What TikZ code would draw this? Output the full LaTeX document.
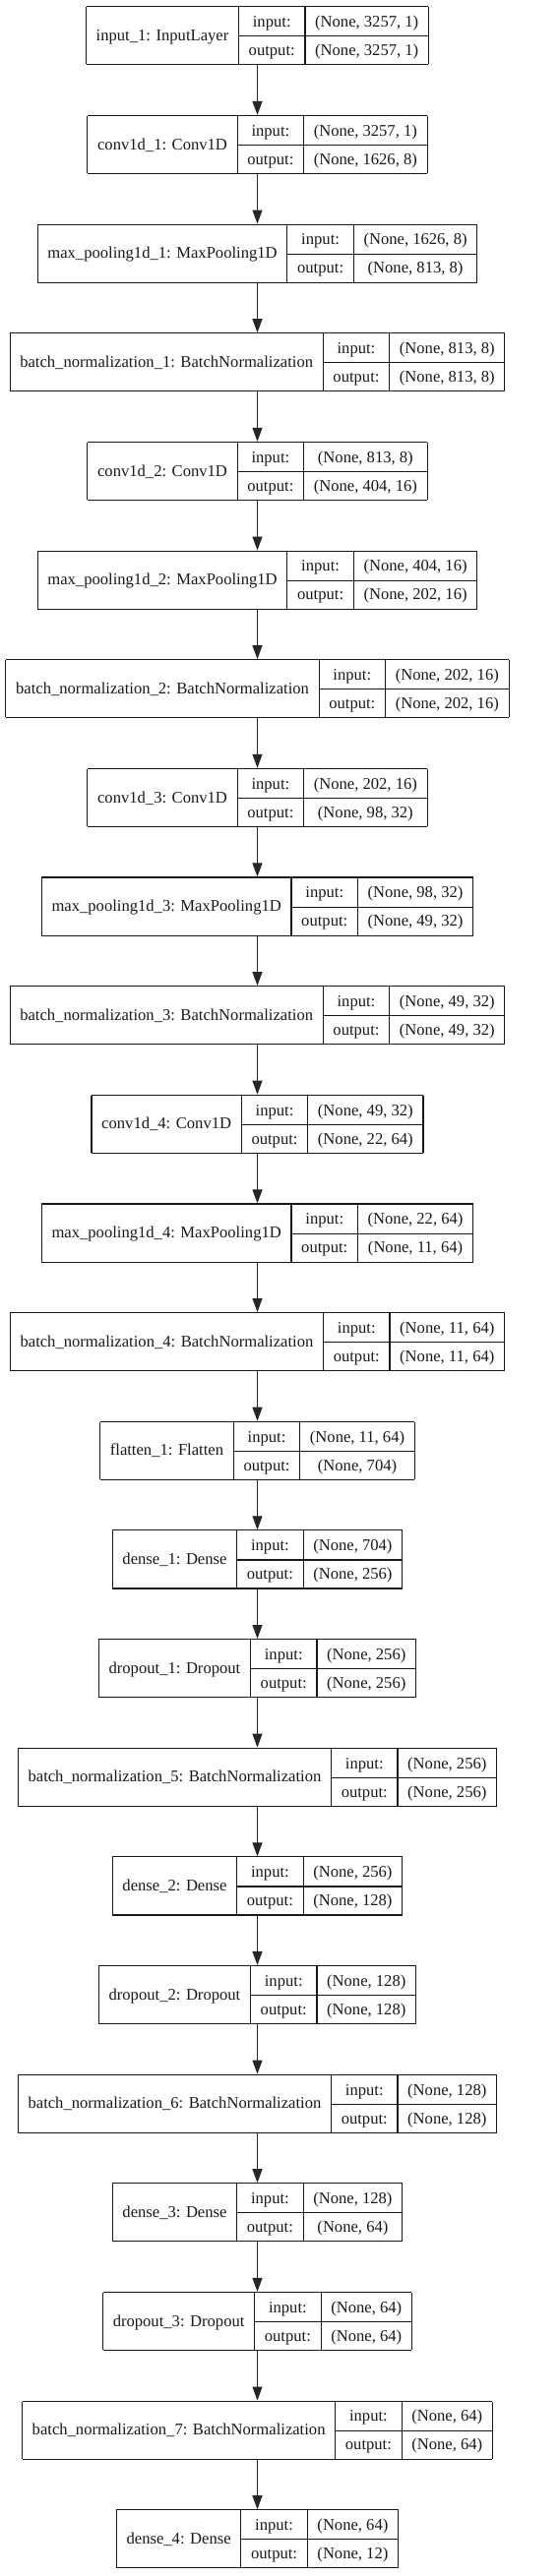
\documentclass[tikz,border=0pt]{standalone}
\usepackage{fontspec}
\setmainfont{Liberation Serif}
\usepackage{tikz}
\usetikzlibrary{arrows.meta}
\usetikzlibrary{positioning}

\newcommand*{\layer}[3]{%
  \fontsize{16.6}{20}\selectfont
  \setlength{\tabcolsep}{10.2pt}%
  \setlength{\arrayrulewidth}{1.1pt}%
  \renewcommand{\arraystretch}{1.45}%
  \begin{tabular}{|c|c|c|}\hline
    & input: & #2\\ \cline{2-3}
    \raisebox{15.2pt}[0pt][0pt]{#1} & output: & #3\\ \hline
  \end{tabular}}

\tikzset{
  lay/.style={inner sep=0pt, outer sep=0pt, text=black!90, draw=none},
  edge/.style={-{Triangle[length=14pt,width=10pt]}, line width=1.1pt, draw=black!85}
}

\begin{document}
\begin{tikzpicture}[x=1pt,y=1pt]
  \useasboundingbox (0,0) rectangle (569,-2619);
  \fill[white] (0,0) rectangle (569,-2619);
  \color{black!85}

  \node [lay] (l1)  at (261.5,-36.3)     {\layer{input\_1: InputLayer}{(None, 3257, 1)}{(None, 3257, 1)}};
  \node [lay] (l2)  at (261.5,-147.0)    {\layer{conv1d\_1: Conv1D}{(None, 3257, 1)}{(None, 1626, 8)}};
  \node [lay] (l3)  at (261.5,-257.6)    {\layer{max\_pooling1d\_1: MaxPooling1D}{(None, 1626, 8)}{(None, 813, 8)}};
  \node [lay] (l4)  at (261.5,-368.3)    {\layer{batch\_normalization\_1: BatchNormalization}{(None, 813, 8)}{(None, 813, 8)}};
  \node [lay] (l5)  at (261.5,-478.9)    {\layer{conv1d\_2: Conv1D}{(None, 813, 8)}{(None, 404, 16)}};
  \node [lay] (l6)  at (261.5,-589.6)    {\layer{max\_pooling1d\_2: MaxPooling1D}{(None, 404, 16)}{(None, 202, 16)}};
  \node [lay] (l7)  at (261.5,-700.2)    {\layer{batch\_normalization\_2: BatchNormalization}{(None, 202, 16)}{(None, 202, 16)}};
  \node [lay] (l8)  at (261.5,-810.9)    {\layer{conv1d\_3: Conv1D}{(None, 202, 16)}{(None, 98, 32)}};
  \node [lay] (l9)  at (261.5,-921.5)    {\layer{max\_pooling1d\_3: MaxPooling1D}{(None, 98, 32)}{(None, 49, 32)}};
  \node [lay] (l10) at (261.5,-1032.2)   {\layer{batch\_normalization\_3: BatchNormalization}{(None, 49, 32)}{(None, 49, 32)}};
  \node [lay] (l11) at (261.5,-1142.8)   {\layer{conv1d\_4: Conv1D}{(None, 49, 32)}{(None, 22, 64)}};
  \node [lay] (l12) at (261.5,-1253.5)   {\layer{max\_pooling1d\_4: MaxPooling1D}{(None, 22, 64)}{(None, 11, 64)}};
  \node [lay] (l13) at (261.5,-1364.1)   {\layer{batch\_normalization\_4: BatchNormalization}{(None, 11, 64)}{(None, 11, 64)}};
  \node [lay] (l14) at (261.5,-1474.8)   {\layer{flatten\_1: Flatten}{(None, 11, 64)}{(None, 704)}};
  \node [lay] (l15) at (261.5,-1585.4)   {\layer{dense\_1: Dense}{(None, 704)}{(None, 256)}};
  \node [lay] (l16) at (261.5,-1696.1)   {\layer{dropout\_1: Dropout}{(None, 256)}{(None, 256)}};
  \node [lay] (l17) at (261.5,-1806.7)   {\layer{batch\_normalization\_5: BatchNormalization}{(None, 256)}{(None, 256)}};
  \node [lay] (l18) at (261.5,-1917.4)   {\layer{dense\_2: Dense}{(None, 256)}{(None, 128)}};
  \node [lay] (l19) at (261.5,-2028.0)   {\layer{dropout\_2: Dropout}{(None, 128)}{(None, 128)}};
  \node [lay] (l20) at (261.5,-2138.7)   {\layer{batch\_normalization\_6: BatchNormalization}{(None, 128)}{(None, 128)}};
  \node [lay] (l21) at (261.5,-2249.3)   {\layer{dense\_3: Dense}{(None, 128)}{(None, 64)}};
  \node [lay] (l22) at (261.5,-2360.0)   {\layer{dropout\_3: Dropout}{(None, 64)}{(None, 64)}};
  \node [lay] (l23) at (261.5,-2470.6)   {\layer{batch\_normalization\_7: BatchNormalization}{(None, 64)}{(None, 64)}};
  \node [lay] (l24) at (261.5,-2581.3)   {\layer{dense\_4: Dense}{(None, 64)}{(None, 12)}};

  % edges between consecutive layers
  \foreach \i [evaluate=\i as \j using int(\i+1)] in {1,...,23}
    \draw [edge] (l\i) -- (l\j);

\end{tikzpicture}
\end{document}
